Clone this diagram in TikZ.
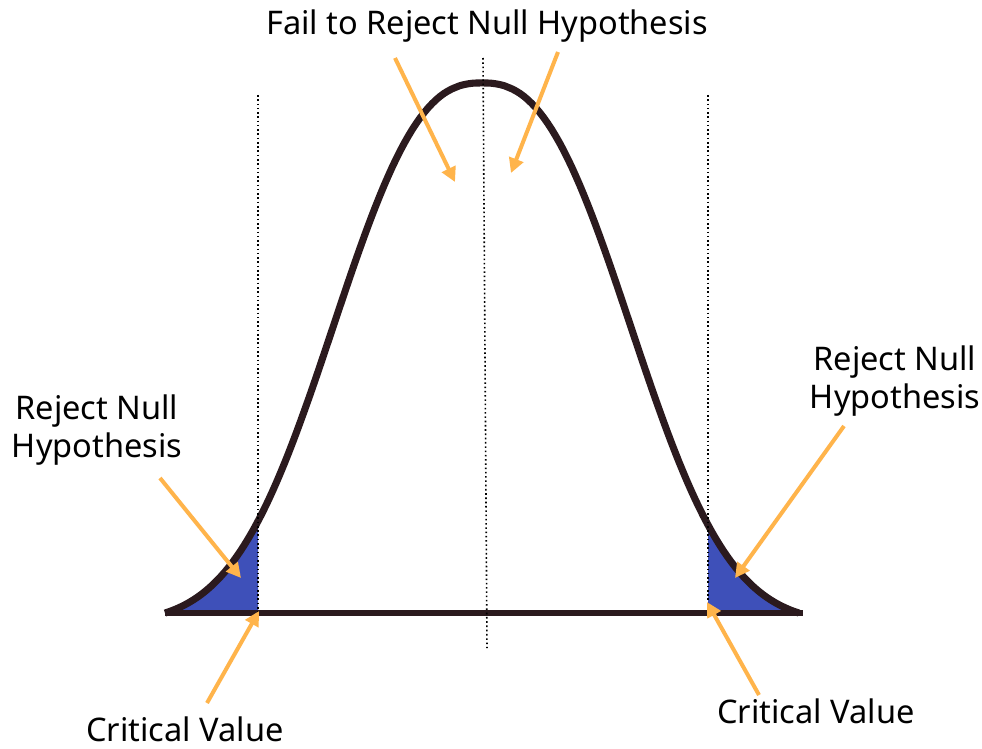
\documentclass[tikz,border=0pt]{standalone}
\usepackage{fontspec}
\setmainfont{Noto Sans}
\usetikzlibrary{arrows.meta}
\definecolor{curvec}{RGB}{43,26,30}
\definecolor{tailblue}{RGB}{62,80,185}
\definecolor{arrowc}{RGB}{255,180,75}
\begin{document}
\begin{tikzpicture}[x=0.75pt,y=-0.75pt,
  lbl/.style={font=\fontsize{24.4}{28}\selectfont, align=center, inner sep=0pt},
  pointer/.style={arrowc, line width=3pt, -{Triangle[length=11pt,width=11pt]}},
  guide/.style={black, dotted, line width=1.2pt},
  bell/.style={curvec, line width=5.3pt, line join=round}]
\useasboundingbox[fill=white] (0,0) rectangle (982,749);

% shaded tails
\begin{scope}
  \clip (150,400) rectangle (258,613);
  \fill[tailblue] plot[domain=165:799, samples=160] (\x, {613 - 530*(exp(-(abs(\x-482)/182.6)^2.5) - 0.0189)/0.9811}) -- cycle;
\end{scope}
\begin{scope}
  \clip (708,400) rectangle (820,613);
  \fill[tailblue] plot[domain=165:799, samples=160] (\x, {613 - 530*(exp(-(abs(\x-482)/182.6)^2.5) - 0.0189)/0.9811}) -- cycle;
\end{scope}

% bell curve and axis
\draw[bell] plot[domain=165:799, samples=160] (\x, {613 - 530*(exp(-(abs(\x-482)/182.6)^2.5) - 0.0189)/0.9811});
\coordinate (axL) at (165,613);
\coordinate (axR) at (803,613);
\draw[curvec, line width=3.8pt] (axL) -- (axR);

% dotted guides
\coordinate (gLt) at (258,95);  \coordinate (gLb) at (258,613);
\coordinate (gRt) at (708,95);  \coordinate (gRb) at (708,613);
\coordinate (gCt) at (483,58);  \coordinate (gCb) at (487,648);
\draw[guide] (gLt) -- (gLb);
\draw[guide] (gRt) -- (gRb);
\draw[guide] (gCt) -- (gCb);

% labels
\node[lbl, anchor=base] (title) at (487,35) {Fail to Reject Null Hypothesis};
\node[lbl, anchor=north] (rejL) at (97,395) {Reject Null\\Hypothesis};
\node[lbl, anchor=north] (rejR) at (895,346) {Reject Null\\Hypothesis};
\node[lbl, anchor=base] (critL) at (185,741) {Critical Value};
\node[lbl, anchor=base] (critR) at (816,723) {Critical Value};

% arrows
\coordinate (a1s) at (395,58);  \coordinate (a1e) at (455,182);
\coordinate (a2s) at (558,52);  \coordinate (a2e) at (511,173);
\coordinate (a3s) at (160,478); \coordinate (a3e) at (241,578);
\coordinate (a4s) at (207,703); \coordinate (a4e) at (259,611);
\coordinate (a5s) at (844,426); \coordinate (a5e) at (735,578);
\coordinate (a6s) at (759,695); \coordinate (a6e) at (707,602);
\draw[pointer] (a1s) -- (a1e);
\draw[pointer] (a2s) -- (a2e);
\draw[pointer] (a3s) -- (a3e);
\draw[pointer] (a4s) -- (a4e);
\draw[pointer] (a5s) -- (a5e);
\draw[pointer] (a6s) -- (a6e);
\end{tikzpicture}
\end{document}
